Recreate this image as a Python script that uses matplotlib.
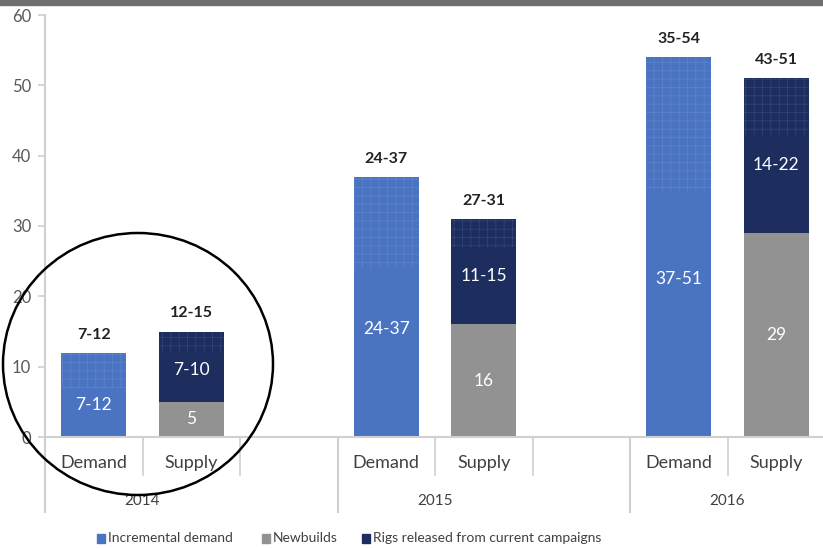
import matplotlib
matplotlib.use("Agg")
import matplotlib.pyplot as plt
from matplotlib.patches import Rectangle, Ellipse
from matplotlib.lines import Line2D
from matplotlib.transforms import blended_transform_factory

plt.rcParams['font.family'] = ['Lato', 'DejaVu Sans']
plt.rcParams['hatch.linewidth'] = 0.5

# ---- data -------------------------------------------------------------
years = ["2014", "2015", "2016"]
demand_range = [(7, 12), (24, 37), (35, 54)]      # incremental demand low/high
supply_range = [(12, 15), (27, 31), (43, 51)]     # total supply low/high
newbuilds = [5, 16, 29]
demand_inner_labels = ["7-12", "24-37", "37-51"]
sub_labels = ["Demand", "Supply"]
legend_labels = ["Incremental demand", "Newbuilds", "Rigs released from current campaigns"]

# slot positions on the category axis (8 slots, 2 used per year + spacers)
demand_pos = [0, 3, 6]
supply_pos = [1, 4, 7]

c_blue = "#4a74c2"
c_blue_h = "#5d83cb"
c_gray = "#929292"
c_navy = "#1c2d5e"
c_navy_h = "#34467b"
txt = "#404040"

fig = plt.figure(figsize=(8.23, 5.48), dpi=100)
ax = fig.add_axes([45/823, 111/548, 780/823, 422/548])

W = 0.67
for i in range(3):
    lo, hi = demand_range[i]
    ax.bar(demand_pos[i], lo, W, color=c_blue, linewidth=0)
    ax.bar(demand_pos[i], hi - lo, W, bottom=lo, facecolor=c_blue,
           edgecolor=c_blue_h, hatch="++", linewidth=0)
    slo, shi = supply_range[i]
    nb = newbuilds[i]
    ax.bar(supply_pos[i], nb, W, color=c_gray, linewidth=0)
    ax.bar(supply_pos[i], slo - nb, W, bottom=nb, color=c_navy, linewidth=0)
    ax.bar(supply_pos[i], shi - slo, W, bottom=slo, facecolor=c_navy,
           edgecolor=c_navy_h, hatch="++", linewidth=0)

    # labels inside segments
    ax.text(demand_pos[i], lo * 0.64, demand_inner_labels[i], color="white",
            ha="center", va="center", fontsize=12.5)
    ax.text(supply_pos[i], nb / 2, str(nb), color="white",
            ha="center", va="center", fontsize=12.5)
    ax.text(supply_pos[i], (nb + slo) / 2 + 0.33 * (shi - slo),
            f"{slo - nb}-{shi - nb}", color="white",
            ha="center", va="center", fontsize=12.5)
    # totals above bars
    ax.annotate(f"{lo}-{hi}", (demand_pos[i], hi), xytext=(0, 13),
                textcoords="offset points", ha="center", va="center",
                fontsize=11.5, fontweight="bold", color="#222222")
    ax.annotate(f"{slo}-{shi}", (supply_pos[i], shi), xytext=(0, 13),
                textcoords="offset points", ha="center", va="center",
                fontsize=11.5, fontweight="bold", color="#222222")

ax.set_xlim(-0.5, 7.5)
ax.set_ylim(0, 60)
ax.set_yticks(range(0, 61, 10))
ax.tick_params(axis="y", colors="#d0d0d0", labelcolor="#595959",
               labelsize=12, length=5, width=1.2, pad=5)
ax.set_xticks([])
for s in ["top", "right"]:
    ax.spines[s].set_visible(False)
ax.spines["left"].set_color("#d0d0d0")
ax.spines["left"].set_linewidth(1.5)
ax.spines["bottom"].set_color("#d0d0d0")
ax.spines["bottom"].set_linewidth(1.5)

# multi-level category axis
tr = blended_transform_factory(ax.transData, ax.transAxes)
short_y = -38 / 422
long_y = -75 / 422
for x in [0.5, 1.5, 3.5, 4.5, 6.5]:
    ax.add_line(Line2D([x, x], [0, short_y], transform=tr, color="#d0d0d0",
                       lw=1.2, clip_on=False))
for x in [-0.5, 2.5, 5.5]:
    ax.add_line(Line2D([x, x], [0, long_y], transform=tr, color="#d0d0d0",
                       lw=1.5, clip_on=False))
for i in range(3):
    ax.text(demand_pos[i], -26 / 422, sub_labels[0], transform=tr,
            ha="center", va="center", fontsize=13, color=txt)
    ax.text(supply_pos[i], -26 / 422, sub_labels[1], transform=tr,
            ha="center", va="center", fontsize=13, color=txt)
    ax.text((demand_pos[i] + supply_pos[i]) / 2, -64 / 422, years[i],
            transform=tr, ha="center", va="center", fontsize=11, color=txt)

# legend
leg_x = [97, 262, 362]
leg_colors = [c_blue, c_gray, c_navy]
for x, c, lab in zip(leg_x, leg_colors, legend_labels):
    fig.patches.append(Rectangle((x / 823, 1 - 543 / 548), 8 / 823, 9 / 548,
                                 transform=fig.transFigure, color=c))
    fig.text((x + 11) / 823, 1 - 538 / 548, lab, ha="left", va="center",
             fontsize=10, color=txt)

# dark band across the top
fig.patches.append(Rectangle((0, 1 - 5 / 548), 1, 5 / 548,
                             transform=fig.transFigure, color="#6e6e6e"))

# circle highlighting 2014
fig.patches.append(Ellipse((138 / 823, 1 - 364 / 548), 270 / 823, 262 / 548,
                           transform=fig.transFigure, fill=False,
                           edgecolor="black", lw=1.8))

fig.savefig("out.png", dpi=100)
